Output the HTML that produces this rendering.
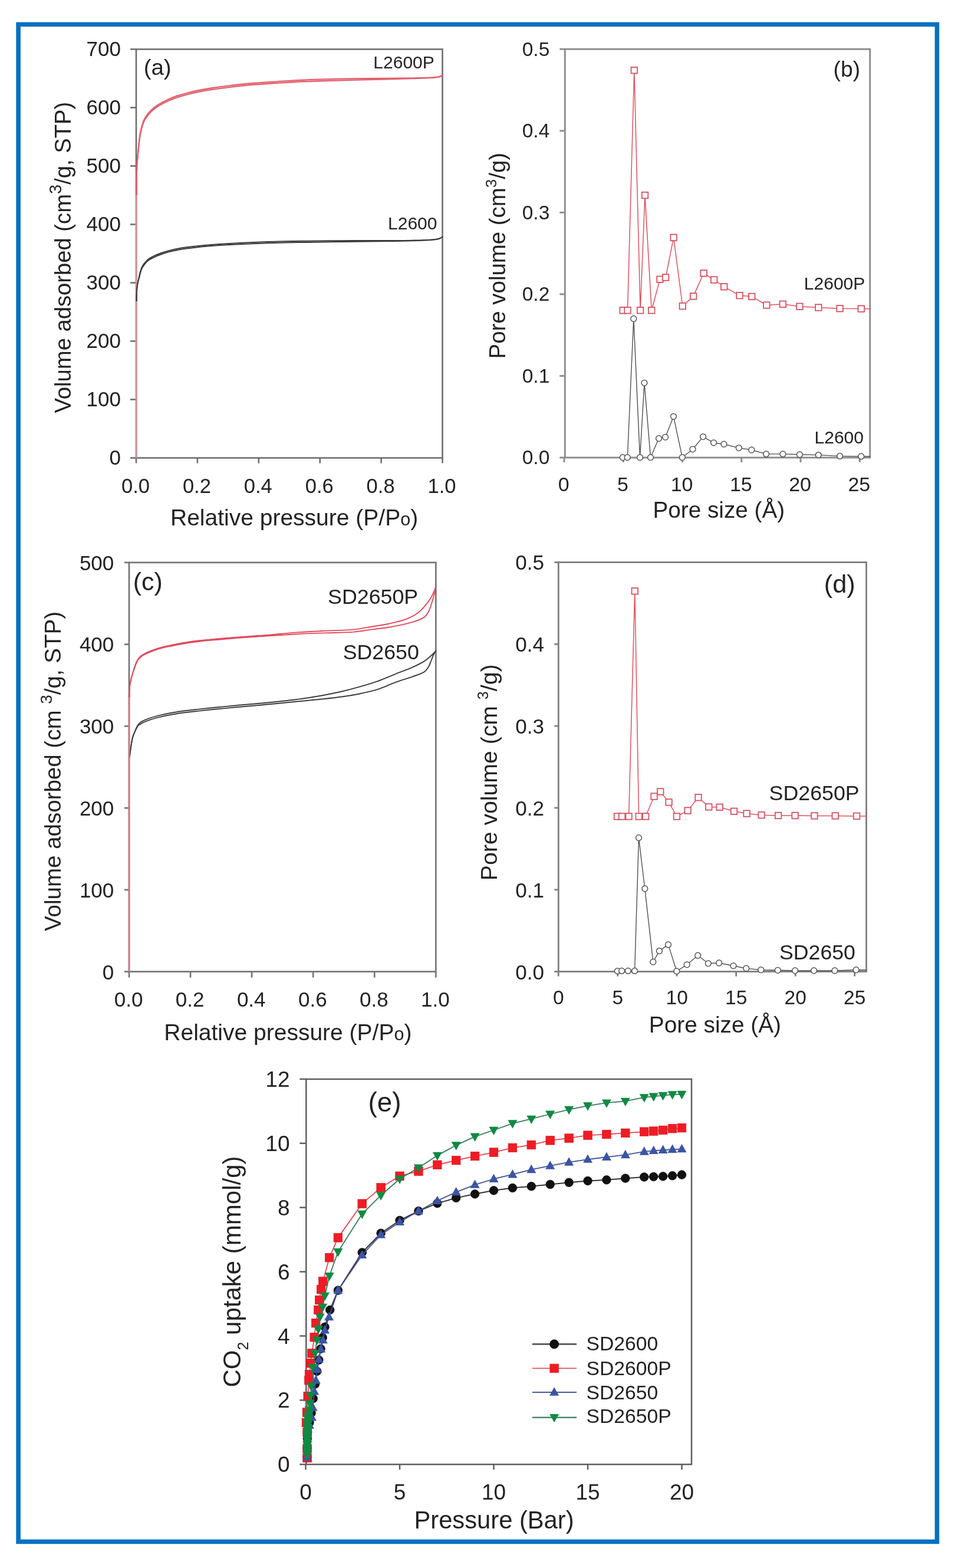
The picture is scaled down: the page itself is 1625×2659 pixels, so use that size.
<!DOCTYPE html>
<html><head><meta charset="utf-8"><title>Figure</title>
<style>
html,body{margin:0;padding:0;background:#fff;}
svg{display:block;}
text{font-family:"Liberation Sans", Arial, Helvetica, sans-serif;}
</style></head>
<body>
<svg width="1625" height="2659" viewBox="0 0 1625 2659">
<rect x="0" y="0" width="1625" height="2659" fill="#ffffff"/>
<rect x="31.1" y="41.4" width="1558.3" height="2573" fill="none" stroke="#0670c2" stroke-width="7.6"/>
<rect x="231" y="83.5" width="519.5" height="693" fill="none" stroke="#6e6e6e" stroke-width="2.6"/>
<line x1="221" y1="776.5" x2="231" y2="776.5" stroke="#6e6e6e" stroke-width="2.6"/>
<line x1="221" y1="677.5" x2="231" y2="677.5" stroke="#6e6e6e" stroke-width="2.6"/>
<line x1="221" y1="578.5" x2="231" y2="578.5" stroke="#6e6e6e" stroke-width="2.6"/>
<line x1="221" y1="479.5" x2="231" y2="479.5" stroke="#6e6e6e" stroke-width="2.6"/>
<line x1="221" y1="380.5" x2="231" y2="380.5" stroke="#6e6e6e" stroke-width="2.6"/>
<line x1="221" y1="281.5" x2="231" y2="281.5" stroke="#6e6e6e" stroke-width="2.6"/>
<line x1="221" y1="182.5" x2="231" y2="182.5" stroke="#6e6e6e" stroke-width="2.6"/>
<line x1="221" y1="83.5" x2="231" y2="83.5" stroke="#6e6e6e" stroke-width="2.6"/>
<line x1="231" y1="776.5" x2="231" y2="785.5" stroke="#6e6e6e" stroke-width="2.6"/>
<line x1="334.9" y1="776.5" x2="334.9" y2="785.5" stroke="#6e6e6e" stroke-width="2.6"/>
<line x1="438.8" y1="776.5" x2="438.8" y2="785.5" stroke="#6e6e6e" stroke-width="2.6"/>
<line x1="542.7" y1="776.5" x2="542.7" y2="785.5" stroke="#6e6e6e" stroke-width="2.6"/>
<line x1="646.6" y1="776.5" x2="646.6" y2="785.5" stroke="#6e6e6e" stroke-width="2.6"/>
<line x1="750.5" y1="776.5" x2="750.5" y2="785.5" stroke="#6e6e6e" stroke-width="2.6"/>
<line x1="231.3" y1="776.5" x2="231.3" y2="300" stroke="#cf9aa1" stroke-width="3.4"/>
<path d="M231.7,510 C231.73,506.67 231.68,503.61 231.8,500 C231.94,495.72 232.13,489.95 232.6,486 C232.95,483.07 233.46,481.12 234,478.4 C234.63,475.22 235.45,471.35 236.2,468.1 C236.88,465.15 237.47,462.38 238.3,459.7 C239.08,457.16 239.85,454.65 241,452.4 C242.1,450.23 243.48,448.34 245,446.4 C246.62,444.34 248.26,442.24 250.5,440.4 C253.12,438.25 256.52,436.37 260,434.6 C263.88,432.63 268.31,430.91 272.8,429.3 C277.61,427.58 282.79,426.05 288,424.7 C293.41,423.3 298.53,422.18 304.7,421.1 C312.24,419.78 321.81,418.67 330,417.7 C337.71,416.79 344.62,416.09 352.5,415.4 C361.2,414.64 370.21,414.01 380,413.4 C391.19,412.7 403.14,412.08 416,411.5 C430.85,410.83 447.38,410.16 464,409.7 C481.95,409.2 501.01,408.96 520,408.7 C539.65,408.43 560,408.25 580,408.14 C600,408.03 620.08,408.13 640,408.05 C659.75,407.97 682.47,407.96 699,407.65 C710.98,407.43 722.08,407.25 730,406.72 C734.94,406.39 738.89,406.11 742,405.46 C744.05,405.04 745.52,404.57 747,403.9 C748.31,403.31 749.33,402.5 750.5,401.8" fill="none" stroke="#3a3a3a" stroke-width="2" stroke-linejoin="round" stroke-linecap="round" />
<path d="M231.7,510 C231.73,506.67 231.68,503.61 231.8,500 C231.94,495.72 232.13,489.95 232.6,486 C232.95,483.07 233.42,480.96 234,478.4 C234.61,475.73 235.49,473.03 236.2,470.3 C236.92,467.53 237.47,464.58 238.3,461.9 C239.08,459.36 239.85,456.85 241,454.6 C242.1,452.43 243.48,450.54 245,448.6 C246.62,446.54 248.26,444.44 250.5,442.6 C253.12,440.45 256.52,438.57 260,436.8 C263.88,434.83 268.31,433.11 272.8,431.5 C277.61,429.78 282.79,428.25 288,426.9 C293.41,425.5 298.53,424.38 304.7,423.3 C312.24,421.98 321.81,420.87 330,419.9 C337.71,418.99 344.62,418.29 352.5,417.6 C361.2,416.84 370.21,416.21 380,415.6 C391.19,414.9 403.14,414.28 416,413.7 C430.85,413.03 447.38,412.36 464,411.9 C481.95,411.4 501.01,411.2 520,410.9 C539.65,410.59 560,410.37 580,410.1 C600,409.83 620.08,409.62 640,409.3 C659.75,408.98 682.47,408.7 699,408.2 C710.98,407.84 722.08,407.53 730,406.9 C734.94,406.51 738.89,406.17 742,405.5 C744.05,405.06 745.52,404.57 747,403.9 C748.31,403.31 749.33,402.5 750.5,401.8" fill="none" stroke="#3a3a3a" stroke-width="2" stroke-linejoin="round" stroke-linecap="round" />
<path d="M231.4,330 C231.47,320 231.4,308.78 231.6,300 C231.75,293.12 231.96,287.61 232.3,281.6 C232.63,275.82 233.11,270.18 233.6,264.6 C234.08,259.18 234.6,254.27 235.2,248.6 C235.88,242.16 236.48,234.12 237.5,228 C238.33,223 239.29,218.82 240.5,214.5 C241.65,210.4 242.86,206.17 244.5,202.7 C245.93,199.68 247.61,197.25 249.5,194.7 C251.44,192.08 253.55,189.6 256,187.2 C258.66,184.59 261.83,181.95 265,179.7 C268.16,177.45 271.55,175.59 275,173.7 C278.54,171.75 282.07,169.95 286,168.2 C290.35,166.26 295,164.4 300,162.7 C305.58,160.8 311.82,159.09 318,157.5 C324.47,155.84 331.32,154.34 338,153 C344.65,151.67 350.54,150.65 358,149.5 C367.41,148.05 379.16,146.52 390,145.2 C401.15,143.84 411.8,142.59 424,141.5 C438.17,140.24 455.2,139.26 470,138.3 C483.8,137.41 494.81,136.59 510,135.9 C530.08,134.98 557.01,134.21 580,133.7 C602.32,133.2 625.1,133.07 646,132.82 C664.9,132.61 683.94,132.55 700,132.29 C712.93,132.09 727.16,132.06 735,131.52 C738.99,131.25 741.63,131.08 744,130.48 C745.63,130.07 746.87,129.57 748,128.9 C748.99,128.31 749.67,127.5 750.5,126.8" fill="none" stroke="#e2606f" stroke-width="2.3" stroke-linejoin="round" stroke-linecap="round" />
<path d="M231.4,330 C231.47,320 231.4,308.78 231.6,300 C231.75,293.12 231.96,287.61 232.3,281.6 C232.63,275.82 233.11,270.18 233.6,264.6 C234.08,259.18 234.58,254.09 235.2,248.6 C235.86,242.77 236.53,236.15 237.5,230.6 C238.35,225.76 239.29,221.42 240.5,217.1 C241.65,213 242.86,208.77 244.5,205.3 C245.93,202.28 247.61,199.85 249.5,197.3 C251.44,194.68 253.55,192.2 256,189.8 C258.66,187.19 261.83,184.55 265,182.3 C268.16,180.05 271.55,178.19 275,176.3 C278.54,174.35 282.07,172.55 286,170.8 C290.35,168.86 295,167 300,165.3 C305.58,163.4 311.82,161.69 318,160.1 C324.47,158.44 331.32,156.94 338,155.6 C344.65,154.27 350.54,153.25 358,152.1 C367.41,150.65 379.16,149.12 390,147.8 C401.15,146.44 411.8,145.19 424,144.1 C438.17,142.84 455.2,141.86 470,140.9 C483.8,140.01 494.81,139.19 510,138.5 C530.08,137.58 557.01,136.96 580,136.3 C602.32,135.66 625.1,135.16 646,134.6 C664.9,134.09 683.95,133.64 700,133.1 C712.93,132.66 727.16,132.38 735,131.7 C738.99,131.35 741.63,131.12 744,130.5 C745.63,130.07 746.87,129.58 748,128.9 C748.99,128.31 749.67,127.5 750.5,126.8" fill="none" stroke="#e2606f" stroke-width="2.3" stroke-linejoin="round" stroke-linecap="round" />
<text x="205" y="787.7" font-size="35" text-anchor="end" fill="#232323" >0</text>
<text x="205" y="688.7" font-size="35" text-anchor="end" fill="#232323" >100</text>
<text x="205" y="589.7" font-size="35" text-anchor="end" fill="#232323" >200</text>
<text x="205" y="490.7" font-size="35" text-anchor="end" fill="#232323" >300</text>
<text x="205" y="391.7" font-size="35" text-anchor="end" fill="#232323" >400</text>
<text x="205" y="292.7" font-size="35" text-anchor="end" fill="#232323" >500</text>
<text x="205" y="193.7" font-size="35" text-anchor="end" fill="#232323" >600</text>
<text x="205" y="94.7" font-size="35" text-anchor="end" fill="#232323" >700</text>
<text x="230" y="836" font-size="34.5" text-anchor="middle" fill="#232323" >0.0</text>
<text x="333.9" y="836" font-size="34.5" text-anchor="middle" fill="#232323" >0.2</text>
<text x="437.8" y="836" font-size="34.5" text-anchor="middle" fill="#232323" >0.4</text>
<text x="541.7" y="836" font-size="34.5" text-anchor="middle" fill="#232323" >0.6</text>
<text x="645.6" y="836" font-size="34.5" text-anchor="middle" fill="#232323" >0.8</text>
<text x="749.5" y="836" font-size="34.5" text-anchor="middle" fill="#232323" >1.0</text>
<text x="289" y="890.8" font-size="39" text-anchor="start" fill="#232323" >Relative pressure (P/P<tspan font-size="30.5">o</tspan>)</text>
<text transform="translate(119.8,700.5) rotate(-90)" x="0" y="0" font-size="38.2" fill="#232323" >Volume adsorbed (cm<tspan font-size="29" dy="-16">3</tspan><tspan dy="16">/g, STP)</tspan></text>
<text x="243.7" y="127.3" font-size="37" text-anchor="start" fill="#232323" textLength="47" lengthAdjust="spacingAndGlyphs">(a)</text>
<text x="736.8" y="116" font-size="30" text-anchor="end" fill="#232323" >L2600P</text>
<text x="741.5" y="388.8" font-size="30" text-anchor="end" fill="#232323" >L2600</text>
<rect x="958.3" y="83.3" width="517.4" height="692.7" fill="none" stroke="#8c8c8c" stroke-width="2.9"/>
<line x1="949.3" y1="776" x2="958.3" y2="776" stroke="#8c8c8c" stroke-width="2.9"/>
<line x1="949.3" y1="637.46" x2="958.3" y2="637.46" stroke="#8c8c8c" stroke-width="2.9"/>
<line x1="949.3" y1="498.92" x2="958.3" y2="498.92" stroke="#8c8c8c" stroke-width="2.9"/>
<line x1="949.3" y1="360.38" x2="958.3" y2="360.38" stroke="#8c8c8c" stroke-width="2.9"/>
<line x1="949.3" y1="221.84" x2="958.3" y2="221.84" stroke="#8c8c8c" stroke-width="2.9"/>
<line x1="949.3" y1="83.3" x2="958.3" y2="83.3" stroke="#8c8c8c" stroke-width="2.9"/>
<line x1="957" y1="776" x2="957" y2="784" stroke="#8c8c8c" stroke-width="2.9"/>
<line x1="1057.25" y1="776" x2="1057.25" y2="784" stroke="#8c8c8c" stroke-width="2.9"/>
<line x1="1157.5" y1="776" x2="1157.5" y2="784" stroke="#8c8c8c" stroke-width="2.9"/>
<line x1="1257.75" y1="776" x2="1257.75" y2="784" stroke="#8c8c8c" stroke-width="2.9"/>
<line x1="1358" y1="776" x2="1358" y2="784" stroke="#8c8c8c" stroke-width="2.9"/>
<line x1="1458.25" y1="776" x2="1458.25" y2="784" stroke="#8c8c8c" stroke-width="2.9"/>
<text x="932.3" y="787.4" font-size="33.5" text-anchor="end" fill="#232323" >0.0</text>
<text x="932.3" y="648.86" font-size="33.5" text-anchor="end" fill="#232323" >0.1</text>
<text x="932.3" y="510.32" font-size="33.5" text-anchor="end" fill="#232323" >0.2</text>
<text x="932.3" y="371.78" font-size="33.5" text-anchor="end" fill="#232323" >0.3</text>
<text x="932.3" y="233.24" font-size="33.5" text-anchor="end" fill="#232323" >0.4</text>
<text x="932.3" y="94.7" font-size="33.5" text-anchor="end" fill="#232323" >0.5</text>
<text x="956.1" y="832.6" font-size="34" text-anchor="middle" fill="#232323" >0</text>
<text x="1056.35" y="832.6" font-size="34" text-anchor="middle" fill="#232323" >5</text>
<text x="1156.6" y="832.6" font-size="34" text-anchor="middle" fill="#232323" >10</text>
<text x="1256.85" y="832.6" font-size="34" text-anchor="middle" fill="#232323" >15</text>
<text x="1357.1" y="832.6" font-size="34" text-anchor="middle" fill="#232323" >20</text>
<text x="1457.35" y="832.6" font-size="34" text-anchor="middle" fill="#232323" >25</text>
<text x="1107.5" y="878" font-size="38.7" text-anchor="start" fill="#232323" >Pore size (Å)</text>
<text transform="translate(857,608.4) rotate(-90)" x="0" y="0" font-size="38.4" fill="#232323" >Pore volume (cm<tspan font-size="26" dy="-15">3</tspan><tspan dy="15">/g)</tspan></text>
<text x="1413.6" y="130" font-size="37" text-anchor="start" fill="#232323" textLength="45.5" lengthAdjust="spacingAndGlyphs">(b)</text>
<text x="1467.3" y="490.8" font-size="30" text-anchor="end" fill="#232323" >L2600P</text>
<text x="1465" y="751.5" font-size="30" text-anchor="end" fill="#232323" >L2600</text>
<path d="M1056.6,526.3 L1064.5,526.3 L1075.8,119.2 L1086.1,526.3 L1094,331.1 L1105.2,526.3 L1119.5,473.7 L1129.1,470.5 L1142.6,402.8 L1157.8,519.1 L1176.1,502.4 L1193.6,463.3 L1211.2,474.5 L1228.2,486.2 L1254.5,501.1 L1275.2,502.9 L1300.3,517.5 L1327.9,515.8 L1356.4,519.8 L1388.3,521.5 L1424.6,523.2 L1460.8,523.6 L1475.7,523.8" fill="none" stroke="#e0505f" stroke-width="1.5" stroke-linejoin="round" stroke-linecap="round" />
<rect x="1051.35" y="521.05" width="10.5" height="10.5" fill="#fff" stroke="#d8505e" stroke-width="1.8"/>
<rect x="1059.25" y="521.05" width="10.5" height="10.5" fill="#fff" stroke="#d8505e" stroke-width="1.8"/>
<rect x="1070.55" y="113.95" width="10.5" height="10.5" fill="#fff" stroke="#d8505e" stroke-width="1.8"/>
<rect x="1080.85" y="521.05" width="10.5" height="10.5" fill="#fff" stroke="#d8505e" stroke-width="1.8"/>
<rect x="1088.75" y="325.85" width="10.5" height="10.5" fill="#fff" stroke="#d8505e" stroke-width="1.8"/>
<rect x="1099.95" y="521.05" width="10.5" height="10.5" fill="#fff" stroke="#d8505e" stroke-width="1.8"/>
<rect x="1114.25" y="468.45" width="10.5" height="10.5" fill="#fff" stroke="#d8505e" stroke-width="1.8"/>
<rect x="1123.85" y="465.25" width="10.5" height="10.5" fill="#fff" stroke="#d8505e" stroke-width="1.8"/>
<rect x="1137.35" y="397.55" width="10.5" height="10.5" fill="#fff" stroke="#d8505e" stroke-width="1.8"/>
<rect x="1152.55" y="513.85" width="10.5" height="10.5" fill="#fff" stroke="#d8505e" stroke-width="1.8"/>
<rect x="1170.85" y="497.15" width="10.5" height="10.5" fill="#fff" stroke="#d8505e" stroke-width="1.8"/>
<rect x="1188.35" y="458.05" width="10.5" height="10.5" fill="#fff" stroke="#d8505e" stroke-width="1.8"/>
<rect x="1205.95" y="469.25" width="10.5" height="10.5" fill="#fff" stroke="#d8505e" stroke-width="1.8"/>
<rect x="1222.95" y="480.95" width="10.5" height="10.5" fill="#fff" stroke="#d8505e" stroke-width="1.8"/>
<rect x="1249.25" y="495.85" width="10.5" height="10.5" fill="#fff" stroke="#d8505e" stroke-width="1.8"/>
<rect x="1269.95" y="497.65" width="10.5" height="10.5" fill="#fff" stroke="#d8505e" stroke-width="1.8"/>
<rect x="1295.05" y="512.25" width="10.5" height="10.5" fill="#fff" stroke="#d8505e" stroke-width="1.8"/>
<rect x="1322.65" y="510.55" width="10.5" height="10.5" fill="#fff" stroke="#d8505e" stroke-width="1.8"/>
<rect x="1351.15" y="514.55" width="10.5" height="10.5" fill="#fff" stroke="#d8505e" stroke-width="1.8"/>
<rect x="1383.05" y="516.25" width="10.5" height="10.5" fill="#fff" stroke="#d8505e" stroke-width="1.8"/>
<rect x="1419.35" y="517.95" width="10.5" height="10.5" fill="#fff" stroke="#d8505e" stroke-width="1.8"/>
<rect x="1455.55" y="518.35" width="10.5" height="10.5" fill="#fff" stroke="#d8505e" stroke-width="1.8"/>
<path d="M1056.3,775.7 L1064.3,775.7 L1074.8,540.5 L1085.5,775.7 L1093,649.3 L1103.5,775.7 L1117.5,743.5 L1128.6,741.3 L1142.5,706.3 L1157.3,775.7 L1175,761.8 L1192.6,740.6 L1210.6,750.8 L1228,753.2 L1253.3,759.6 L1274.8,763 L1299.6,769.9 L1327.9,769.9 L1356.4,770.8 L1388.3,771.6 L1424.6,773.4 L1460.8,773.9 L1475.7,774" fill="none" stroke="#505050" stroke-width="1.4" stroke-linejoin="round" stroke-linecap="round" />
<circle cx="1056.3" cy="775.7" r="4.9" fill="#fff" stroke="#555555" stroke-width="1.5"/>
<circle cx="1064.3" cy="775.7" r="4.9" fill="#fff" stroke="#555555" stroke-width="1.5"/>
<circle cx="1074.8" cy="540.5" r="4.9" fill="#fff" stroke="#555555" stroke-width="1.5"/>
<circle cx="1085.5" cy="775.7" r="4.9" fill="#fff" stroke="#555555" stroke-width="1.5"/>
<circle cx="1093" cy="649.3" r="4.9" fill="#fff" stroke="#555555" stroke-width="1.5"/>
<circle cx="1103.5" cy="775.7" r="4.9" fill="#fff" stroke="#555555" stroke-width="1.5"/>
<circle cx="1117.5" cy="743.5" r="4.9" fill="#fff" stroke="#555555" stroke-width="1.5"/>
<circle cx="1128.6" cy="741.3" r="4.9" fill="#fff" stroke="#555555" stroke-width="1.5"/>
<circle cx="1142.5" cy="706.3" r="4.9" fill="#fff" stroke="#555555" stroke-width="1.5"/>
<circle cx="1157.3" cy="775.7" r="4.9" fill="#fff" stroke="#555555" stroke-width="1.5"/>
<circle cx="1175" cy="761.8" r="4.9" fill="#fff" stroke="#555555" stroke-width="1.5"/>
<circle cx="1192.6" cy="740.6" r="4.9" fill="#fff" stroke="#555555" stroke-width="1.5"/>
<circle cx="1210.6" cy="750.8" r="4.9" fill="#fff" stroke="#555555" stroke-width="1.5"/>
<circle cx="1228" cy="753.2" r="4.9" fill="#fff" stroke="#555555" stroke-width="1.5"/>
<circle cx="1253.3" cy="759.6" r="4.9" fill="#fff" stroke="#555555" stroke-width="1.5"/>
<circle cx="1274.8" cy="763" r="4.9" fill="#fff" stroke="#555555" stroke-width="1.5"/>
<circle cx="1299.6" cy="769.9" r="4.9" fill="#fff" stroke="#555555" stroke-width="1.5"/>
<circle cx="1327.9" cy="769.9" r="4.9" fill="#fff" stroke="#555555" stroke-width="1.5"/>
<circle cx="1356.4" cy="770.8" r="4.9" fill="#fff" stroke="#555555" stroke-width="1.5"/>
<circle cx="1388.3" cy="771.6" r="4.9" fill="#fff" stroke="#555555" stroke-width="1.5"/>
<circle cx="1424.6" cy="773.4" r="4.9" fill="#fff" stroke="#555555" stroke-width="1.5"/>
<circle cx="1460.8" cy="773.9" r="4.9" fill="#fff" stroke="#555555" stroke-width="1.5"/>
<rect x="219" y="953.9" width="520.3" height="693.8" fill="none" stroke="#757575" stroke-width="2.7"/>
<line x1="211" y1="1647.7" x2="219" y2="1647.7" stroke="#757575" stroke-width="2.7"/>
<line x1="211" y1="1508.94" x2="219" y2="1508.94" stroke="#757575" stroke-width="2.7"/>
<line x1="211" y1="1370.18" x2="219" y2="1370.18" stroke="#757575" stroke-width="2.7"/>
<line x1="211" y1="1231.42" x2="219" y2="1231.42" stroke="#757575" stroke-width="2.7"/>
<line x1="211" y1="1092.66" x2="219" y2="1092.66" stroke="#757575" stroke-width="2.7"/>
<line x1="211" y1="953.9" x2="219" y2="953.9" stroke="#757575" stroke-width="2.7"/>
<line x1="219" y1="1647.7" x2="219" y2="1657.7" stroke="#757575" stroke-width="2.7"/>
<line x1="323.06" y1="1647.7" x2="323.06" y2="1657.7" stroke="#757575" stroke-width="2.7"/>
<line x1="427.12" y1="1647.7" x2="427.12" y2="1657.7" stroke="#757575" stroke-width="2.7"/>
<line x1="531.18" y1="1647.7" x2="531.18" y2="1657.7" stroke="#757575" stroke-width="2.7"/>
<line x1="635.24" y1="1647.7" x2="635.24" y2="1657.7" stroke="#757575" stroke-width="2.7"/>
<line x1="739.3" y1="1647.7" x2="739.3" y2="1657.7" stroke="#757575" stroke-width="2.7"/>
<path d="M219.8,1284 C220.7,1277.33 221.54,1270 222.5,1264 C223.29,1259.05 223.95,1254.3 225,1250.5 C225.8,1247.59 226.88,1245.31 227.8,1243 C228.61,1240.99 229.41,1239.25 230.2,1237.4 C230.98,1235.58 231.68,1233.58 232.5,1232 C233.19,1230.68 233.86,1229.57 234.7,1228.5 C235.53,1227.44 236.45,1226.48 237.5,1225.6 C238.6,1224.67 239.62,1223.97 241.2,1223.1 C243.64,1221.75 247.13,1220.2 251,1218.8 C256.32,1216.87 263.91,1214.84 270.4,1213.2 C276.81,1211.58 283.17,1210.22 289.7,1209 C296.36,1207.75 302.71,1206.8 310,1205.8 C318.46,1204.64 327.95,1203.66 337.5,1202.6 C347.88,1201.45 359.27,1200.28 370,1199.2 C380.5,1198.15 389.69,1197.26 401.2,1196.2 C415.44,1194.89 432.82,1193.58 449,1192 C465.73,1190.36 483.46,1188.65 500,1186.5 C515.75,1184.45 531.85,1182.03 546,1179.5 C558.22,1177.31 569.05,1175.07 580,1172.5 C590.35,1170.07 600.03,1167.46 610,1164.6 C620.03,1161.73 630.07,1158.82 640,1155.3 C650.07,1151.73 660,1147.28 670,1143.3 C680,1139.32 691.16,1135.41 700,1131.4 C707.29,1128.1 714.21,1124.8 719.5,1121.4 C723.54,1118.81 726.57,1116.01 729.5,1113.5 C731.94,1111.41 734.29,1109.28 736,1107.5 C737.24,1106.22 738,1105.17 739,1104" fill="none" stroke="#3c3c3c" stroke-width="1.9" stroke-linejoin="round" stroke-linecap="round" />
<path d="M219.8,1284 C220.7,1277.33 221.54,1270 222.5,1264 C223.29,1259.05 223.95,1254.3 225,1250.5 C225.8,1247.59 226.88,1245.31 227.8,1243 C228.61,1240.99 229.35,1239.07 230.2,1237.4 C230.93,1235.96 231.73,1234.76 232.5,1233.5 C233.23,1232.3 233.79,1230.83 234.7,1230 C235.5,1229.28 236.52,1229.17 237.5,1228.6 C238.67,1227.92 239.62,1226.97 241.2,1226.1 C243.64,1224.75 247.13,1223.2 251,1221.8 C256.32,1219.87 263.91,1217.84 270.4,1216.2 C276.81,1214.58 283.17,1213.22 289.7,1212 C296.36,1210.75 302.71,1209.8 310,1208.8 C318.46,1207.64 327.95,1206.66 337.5,1205.6 C347.88,1204.45 359.27,1203.28 370,1202.2 C380.5,1201.15 389.69,1200.26 401.2,1199.2 C415.44,1197.89 432.81,1196.5 449,1195 C465.73,1193.45 483.44,1191.62 500,1190 C515.73,1188.46 531.83,1187.03 546,1185.5 C558.2,1184.19 569.04,1183.06 580,1181.5 C590.33,1180.03 600.04,1178.54 610,1176.5 C620.04,1174.45 630.11,1172.35 640,1169.2 C650.11,1165.98 659.95,1160.97 670,1157.3 C679.95,1153.67 691.12,1150.58 700,1147.3 C707.24,1144.63 714.88,1142.69 719.5,1139.4 C722.78,1137.06 724.55,1134.47 726.5,1131.4 C728.61,1128.08 729.95,1123.69 731.5,1120 C732.94,1116.57 734.1,1112.87 735.5,1110 C736.62,1107.7 737.83,1106 739,1104" fill="none" stroke="#3c3c3c" stroke-width="1.9" stroke-linejoin="round" stroke-linecap="round" />
<line x1="219" y1="1647.7" x2="219" y2="1178" stroke="#d9768c" stroke-width="2.8"/>
<path d="M219.4,1182 C219.53,1176.67 219.33,1170.94 219.8,1166 C220.21,1161.7 220.94,1157.98 221.8,1154 C222.67,1149.98 223.96,1145.68 225,1142 C225.89,1138.83 226.7,1136.01 227.6,1133.2 C228.44,1130.59 229.29,1127.99 230.2,1125.7 C231,1123.7 231.78,1121.88 232.7,1120.2 C233.53,1118.67 234.36,1117.29 235.4,1116 C236.45,1114.69 237.7,1113.48 239,1112.4 C240.3,1111.32 241.42,1110.53 243.2,1109.5 C245.95,1107.91 250.13,1105.97 254.2,1104.3 C259.03,1102.31 264.71,1100.24 270.4,1098.6 C276.5,1096.84 283.17,1095.57 289.7,1094.2 C296.37,1092.8 302.71,1091.53 310,1090.3 C318.46,1088.87 327.94,1087.45 337.5,1086.3 C347.87,1085.05 359.27,1084.16 370,1083.2 C380.5,1082.26 389.69,1081.48 401.2,1080.6 C415.44,1079.52 432.54,1078.61 449,1077.3 C466.63,1075.9 486.22,1073.67 503.7,1072.4 C519.77,1071.23 534.27,1070.59 550,1069.8 C566.34,1068.98 585.5,1069.1 600,1067.6 C611.28,1066.43 619.93,1064.35 629.9,1062.7 C639.87,1061.05 649.89,1059.85 659.8,1057.7 C669.79,1055.53 680.84,1053.21 689.6,1049.7 C697.13,1046.69 703.74,1043.35 709.6,1038.8 C715.34,1034.34 720.46,1027.89 724.5,1022.8 C727.77,1018.68 730.28,1014.88 732.5,1010.9 C734.54,1007.25 736.35,1002.65 737.5,999.9 C738.18,998.28 738.5,997.3 739,996" fill="none" stroke="#e2485a" stroke-width="1.9" stroke-linejoin="round" stroke-linecap="round" />
<path d="M219.4,1182 C219.53,1176.67 219.33,1170.94 219.8,1166 C220.21,1161.7 220.94,1157.98 221.8,1154 C222.67,1149.98 223.92,1145.49 225,1142 C225.86,1139.25 226.74,1137.15 227.6,1134.7 C228.47,1132.22 229.29,1129.49 230.2,1127.2 C231,1125.2 231.78,1123.38 232.7,1121.7 C233.53,1120.17 234.36,1118.79 235.4,1117.5 C236.45,1116.19 237.7,1114.98 239,1113.9 C240.3,1112.82 241.42,1112.03 243.2,1111 C245.95,1109.41 250.13,1107.47 254.2,1105.8 C259.03,1103.81 264.71,1101.74 270.4,1100.1 C276.5,1098.34 283.17,1097.07 289.7,1095.7 C296.37,1094.3 302.71,1093.03 310,1091.8 C318.46,1090.37 327.94,1088.95 337.5,1087.8 C347.87,1086.55 359.27,1085.66 370,1084.7 C380.5,1083.76 389.69,1082.98 401.2,1082.1 C415.44,1081.02 432.53,1079.91 449,1078.8 C466.62,1077.61 486.22,1076.11 503.7,1075.2 C519.77,1074.36 534.27,1073.99 550,1073.4 C566.35,1072.79 585.49,1072.83 600,1071.6 C611.27,1070.65 619.93,1068.92 629.9,1067.6 C639.87,1066.28 649.87,1065.35 659.8,1063.7 C669.77,1062.05 680.7,1059.93 689.6,1057.7 C696.98,1055.86 703.97,1054.05 709.6,1051.7 C714.04,1049.85 718.03,1048.15 721,1045.5 C723.66,1043.13 725.23,1040.37 727,1037 C729.19,1032.82 730.94,1026.75 732.5,1022 C733.88,1017.8 734.95,1014.17 736,1010 C737.13,1005.53 738,1000.67 739,996" fill="none" stroke="#e2485a" stroke-width="1.9" stroke-linejoin="round" stroke-linecap="round" />
<text x="193.3" y="1660.5" font-size="35" text-anchor="end" fill="#232323" >0</text>
<text x="193.3" y="1521.74" font-size="35" text-anchor="end" fill="#232323" >100</text>
<text x="193.3" y="1382.98" font-size="35" text-anchor="end" fill="#232323" >200</text>
<text x="193.3" y="1244.22" font-size="35" text-anchor="end" fill="#232323" >300</text>
<text x="193.3" y="1105.46" font-size="35" text-anchor="end" fill="#232323" >400</text>
<text x="193.3" y="966.7" font-size="35" text-anchor="end" fill="#232323" >500</text>
<text x="218.1" y="1706.8" font-size="35" text-anchor="middle" fill="#232323" >0.0</text>
<text x="322.16" y="1706.8" font-size="35" text-anchor="middle" fill="#232323" >0.2</text>
<text x="426.22" y="1706.8" font-size="35" text-anchor="middle" fill="#232323" >0.4</text>
<text x="530.28" y="1706.8" font-size="35" text-anchor="middle" fill="#232323" >0.6</text>
<text x="634.34" y="1706.8" font-size="35" text-anchor="middle" fill="#232323" >0.8</text>
<text x="738.4" y="1706.8" font-size="35" text-anchor="middle" fill="#232323" >1.0</text>
<text x="278.3" y="1764.3" font-size="39" text-anchor="start" fill="#232323" >Relative pressure (P/P<tspan font-size="30.5">o</tspan>)</text>
<text transform="translate(102.8,1579) rotate(-90)" x="0" y="0" font-size="38.5" fill="#232323" >Volume adsorbed (cm <tspan font-size="28" dy="-15">3</tspan><tspan dy="15">/g, STP)</tspan></text>
<text x="225.8" y="1000.8" font-size="43" text-anchor="start" fill="#232323" textLength="50" lengthAdjust="spacingAndGlyphs">(c)</text>
<text x="556" y="1024" font-size="35.8" text-anchor="start" fill="#232323" >SD2650P</text>
<text x="581.8" y="1118.1" font-size="35.7" text-anchor="start" fill="#232323" >SD2650</text>
<rect x="947.3" y="953.5" width="522.2" height="694.1" fill="none" stroke="#7e7e7e" stroke-width="2.8"/>
<line x1="940.3" y1="1647.6" x2="947.3" y2="1647.6" stroke="#7e7e7e" stroke-width="2.8"/>
<line x1="940.3" y1="1508.78" x2="947.3" y2="1508.78" stroke="#7e7e7e" stroke-width="2.8"/>
<line x1="940.3" y1="1369.96" x2="947.3" y2="1369.96" stroke="#7e7e7e" stroke-width="2.8"/>
<line x1="940.3" y1="1231.14" x2="947.3" y2="1231.14" stroke="#7e7e7e" stroke-width="2.8"/>
<line x1="940.3" y1="1092.32" x2="947.3" y2="1092.32" stroke="#7e7e7e" stroke-width="2.8"/>
<line x1="940.3" y1="953.5" x2="947.3" y2="953.5" stroke="#7e7e7e" stroke-width="2.8"/>
<line x1="947.2" y1="1647.6" x2="947.2" y2="1655.6" stroke="#7e7e7e" stroke-width="2.8"/>
<line x1="1047.7" y1="1647.6" x2="1047.7" y2="1655.6" stroke="#7e7e7e" stroke-width="2.8"/>
<line x1="1148.2" y1="1647.6" x2="1148.2" y2="1655.6" stroke="#7e7e7e" stroke-width="2.8"/>
<line x1="1248.7" y1="1647.6" x2="1248.7" y2="1655.6" stroke="#7e7e7e" stroke-width="2.8"/>
<line x1="1349.2" y1="1647.6" x2="1349.2" y2="1655.6" stroke="#7e7e7e" stroke-width="2.8"/>
<line x1="1449.7" y1="1647.6" x2="1449.7" y2="1655.6" stroke="#7e7e7e" stroke-width="2.8"/>
<text x="923" y="1660.5" font-size="35" text-anchor="end" fill="#232323" >0.0</text>
<text x="923" y="1521.68" font-size="35" text-anchor="end" fill="#232323" >0.1</text>
<text x="923" y="1382.86" font-size="35" text-anchor="end" fill="#232323" >0.2</text>
<text x="923" y="1244.04" font-size="35" text-anchor="end" fill="#232323" >0.3</text>
<text x="923" y="1105.22" font-size="35" text-anchor="end" fill="#232323" >0.4</text>
<text x="923" y="966.4" font-size="35" text-anchor="end" fill="#232323" >0.5</text>
<text x="947.2" y="1703.4" font-size="33.5" text-anchor="middle" fill="#232323" >0</text>
<text x="1047.7" y="1703.4" font-size="33.5" text-anchor="middle" fill="#232323" >5</text>
<text x="1148.2" y="1703.4" font-size="33.5" text-anchor="middle" fill="#232323" >10</text>
<text x="1248.7" y="1703.4" font-size="33.5" text-anchor="middle" fill="#232323" >15</text>
<text x="1349.2" y="1703.4" font-size="33.5" text-anchor="middle" fill="#232323" >20</text>
<text x="1449.7" y="1703.4" font-size="33.5" text-anchor="middle" fill="#232323" >25</text>
<text x="1100.8" y="1751.2" font-size="38.8" text-anchor="start" fill="#232323" >Pore size (Å)</text>
<text transform="translate(843.2,1493.2) rotate(-90)" x="0" y="0" font-size="39.2" fill="#232323" >Pore volume (cm <tspan font-size="25" dy="-15">3</tspan><tspan dy="15">/g)</tspan></text>
<text x="1397.8" y="1004.8" font-size="43" text-anchor="start" fill="#232323" textLength="53" lengthAdjust="spacingAndGlyphs">(d)</text>
<text x="1304.5" y="1356.6" font-size="35.8" text-anchor="start" fill="#232323" >SD2650P</text>
<text x="1322" y="1627" font-size="35.7" text-anchor="start" fill="#232323" >SD2650</text>
<path d="M1047,1384.5 L1055,1384.5 L1066.6,1384.5 L1076.8,1002.3 L1083.6,1384.5 L1095.2,1384.5 L1109.5,1350.5 L1120.2,1342.5 L1134.5,1360.4 L1147.9,1384.5 L1166.6,1374.6 L1184.5,1352.3 L1202.3,1368.4 L1220.6,1368.8 L1245,1375.8 L1266.6,1379.6 L1291.6,1382.2 L1320.1,1383 L1348.6,1383 L1381.4,1383.5 L1416.8,1383.5 L1453.1,1383.9 L1469.5,1384" fill="none" stroke="#e0505f" stroke-width="1.5" stroke-linejoin="round" stroke-linecap="round" />
<rect x="1041.75" y="1379.25" width="10.5" height="10.5" fill="#fff" stroke="#d8505e" stroke-width="1.8"/>
<rect x="1049.75" y="1379.25" width="10.5" height="10.5" fill="#fff" stroke="#d8505e" stroke-width="1.8"/>
<rect x="1061.35" y="1379.25" width="10.5" height="10.5" fill="#fff" stroke="#d8505e" stroke-width="1.8"/>
<rect x="1071.55" y="997.05" width="10.5" height="10.5" fill="#fff" stroke="#d8505e" stroke-width="1.8"/>
<rect x="1078.35" y="1379.25" width="10.5" height="10.5" fill="#fff" stroke="#d8505e" stroke-width="1.8"/>
<rect x="1089.95" y="1379.25" width="10.5" height="10.5" fill="#fff" stroke="#d8505e" stroke-width="1.8"/>
<rect x="1104.25" y="1345.25" width="10.5" height="10.5" fill="#fff" stroke="#d8505e" stroke-width="1.8"/>
<rect x="1114.95" y="1337.25" width="10.5" height="10.5" fill="#fff" stroke="#d8505e" stroke-width="1.8"/>
<rect x="1129.25" y="1355.15" width="10.5" height="10.5" fill="#fff" stroke="#d8505e" stroke-width="1.8"/>
<rect x="1142.65" y="1379.25" width="10.5" height="10.5" fill="#fff" stroke="#d8505e" stroke-width="1.8"/>
<rect x="1161.35" y="1369.35" width="10.5" height="10.5" fill="#fff" stroke="#d8505e" stroke-width="1.8"/>
<rect x="1179.25" y="1347.05" width="10.5" height="10.5" fill="#fff" stroke="#d8505e" stroke-width="1.8"/>
<rect x="1197.05" y="1363.15" width="10.5" height="10.5" fill="#fff" stroke="#d8505e" stroke-width="1.8"/>
<rect x="1215.35" y="1363.55" width="10.5" height="10.5" fill="#fff" stroke="#d8505e" stroke-width="1.8"/>
<rect x="1239.75" y="1370.55" width="10.5" height="10.5" fill="#fff" stroke="#d8505e" stroke-width="1.8"/>
<rect x="1261.35" y="1374.35" width="10.5" height="10.5" fill="#fff" stroke="#d8505e" stroke-width="1.8"/>
<rect x="1286.35" y="1376.95" width="10.5" height="10.5" fill="#fff" stroke="#d8505e" stroke-width="1.8"/>
<rect x="1314.85" y="1377.75" width="10.5" height="10.5" fill="#fff" stroke="#d8505e" stroke-width="1.8"/>
<rect x="1343.35" y="1377.75" width="10.5" height="10.5" fill="#fff" stroke="#d8505e" stroke-width="1.8"/>
<rect x="1376.15" y="1378.25" width="10.5" height="10.5" fill="#fff" stroke="#d8505e" stroke-width="1.8"/>
<rect x="1411.55" y="1378.25" width="10.5" height="10.5" fill="#fff" stroke="#d8505e" stroke-width="1.8"/>
<rect x="1447.85" y="1378.65" width="10.5" height="10.5" fill="#fff" stroke="#d8505e" stroke-width="1.8"/>
<path d="M1047.4,1646.7 L1054.6,1646.4 L1065.3,1646.4 L1076.6,1646.4 L1083.5,1420.7 L1093.8,1507 L1107.8,1631.2 L1118.4,1612.6 L1133.5,1601.9 L1147.8,1647 L1165.2,1635.8 L1183.7,1620.2 L1201.4,1633.8 L1219.6,1633 L1244,1637.8 L1265.8,1642.2 L1290.8,1644.7 L1319.3,1645.3 L1348.6,1646 L1380.6,1646 L1416,1646 L1452.2,1644.7 L1469.5,1645" fill="none" stroke="#505050" stroke-width="1.4" stroke-linejoin="round" stroke-linecap="round" />
<circle cx="1047.4" cy="1646.7" r="4.9" fill="#fff" stroke="#555555" stroke-width="1.5"/>
<circle cx="1054.6" cy="1646.4" r="4.9" fill="#fff" stroke="#555555" stroke-width="1.5"/>
<circle cx="1065.3" cy="1646.4" r="4.9" fill="#fff" stroke="#555555" stroke-width="1.5"/>
<circle cx="1076.6" cy="1646.4" r="4.9" fill="#fff" stroke="#555555" stroke-width="1.5"/>
<circle cx="1083.5" cy="1420.7" r="4.9" fill="#fff" stroke="#555555" stroke-width="1.5"/>
<circle cx="1093.8" cy="1507" r="4.9" fill="#fff" stroke="#555555" stroke-width="1.5"/>
<circle cx="1107.8" cy="1631.2" r="4.9" fill="#fff" stroke="#555555" stroke-width="1.5"/>
<circle cx="1118.4" cy="1612.6" r="4.9" fill="#fff" stroke="#555555" stroke-width="1.5"/>
<circle cx="1133.5" cy="1601.9" r="4.9" fill="#fff" stroke="#555555" stroke-width="1.5"/>
<circle cx="1147.8" cy="1647" r="4.9" fill="#fff" stroke="#555555" stroke-width="1.5"/>
<circle cx="1165.2" cy="1635.8" r="4.9" fill="#fff" stroke="#555555" stroke-width="1.5"/>
<circle cx="1183.7" cy="1620.2" r="4.9" fill="#fff" stroke="#555555" stroke-width="1.5"/>
<circle cx="1201.4" cy="1633.8" r="4.9" fill="#fff" stroke="#555555" stroke-width="1.5"/>
<circle cx="1219.6" cy="1633" r="4.9" fill="#fff" stroke="#555555" stroke-width="1.5"/>
<circle cx="1244" cy="1637.8" r="4.9" fill="#fff" stroke="#555555" stroke-width="1.5"/>
<circle cx="1265.8" cy="1642.2" r="4.9" fill="#fff" stroke="#555555" stroke-width="1.5"/>
<circle cx="1290.8" cy="1644.7" r="4.9" fill="#fff" stroke="#555555" stroke-width="1.5"/>
<circle cx="1319.3" cy="1645.3" r="4.9" fill="#fff" stroke="#555555" stroke-width="1.5"/>
<circle cx="1348.6" cy="1646" r="4.9" fill="#fff" stroke="#555555" stroke-width="1.5"/>
<circle cx="1380.6" cy="1646" r="4.9" fill="#fff" stroke="#555555" stroke-width="1.5"/>
<circle cx="1416" cy="1646" r="4.9" fill="#fff" stroke="#555555" stroke-width="1.5"/>
<circle cx="1452.2" cy="1644.7" r="4.9" fill="#fff" stroke="#555555" stroke-width="1.5"/>
<rect x="519.3" y="1830" width="653.7" height="653.3" fill="none" stroke="#5e5e5e" stroke-width="2.5"/>
<line x1="508.3" y1="2483.3" x2="519.3" y2="2483.3" stroke="#5e5e5e" stroke-width="2.5"/>
<line x1="508.3" y1="2374.4" x2="519.3" y2="2374.4" stroke="#5e5e5e" stroke-width="2.5"/>
<line x1="508.3" y1="2265.5" x2="519.3" y2="2265.5" stroke="#5e5e5e" stroke-width="2.5"/>
<line x1="508.3" y1="2156.6" x2="519.3" y2="2156.6" stroke="#5e5e5e" stroke-width="2.5"/>
<line x1="508.3" y1="2047.7" x2="519.3" y2="2047.7" stroke="#5e5e5e" stroke-width="2.5"/>
<line x1="508.3" y1="1938.8" x2="519.3" y2="1938.8" stroke="#5e5e5e" stroke-width="2.5"/>
<line x1="508.3" y1="1829.9" x2="519.3" y2="1829.9" stroke="#5e5e5e" stroke-width="2.5"/>
<line x1="518.5" y1="2483.3" x2="518.5" y2="2492.3" stroke="#5e5e5e" stroke-width="2.5"/>
<line x1="678" y1="2483.3" x2="678" y2="2492.3" stroke="#5e5e5e" stroke-width="2.5"/>
<line x1="837.5" y1="2483.3" x2="837.5" y2="2492.3" stroke="#5e5e5e" stroke-width="2.5"/>
<line x1="997" y1="2483.3" x2="997" y2="2492.3" stroke="#5e5e5e" stroke-width="2.5"/>
<line x1="1156.5" y1="2483.3" x2="1156.5" y2="2492.3" stroke="#5e5e5e" stroke-width="2.5"/>
<path d="M521.05,2471.32 L521.05,2456.08 L521.37,2439.74 L521.69,2428.85 L524.88,2412.52 L528.07,2396.18 L531.26,2371.68 L534.45,2347.18 L537.64,2325.39 L540.83,2306.34 L544.02,2287.28 L547.21,2268.22 L551.04,2250.25 L559.65,2221.4 L573.37,2188.18 L614.2,2123.93 L646.1,2091.26 L678,2069.48 L709.9,2053.69 L741.8,2040.62 L773.7,2031.37 L805.6,2024.83 L837.5,2018.84 L869.4,2014.49 L901.3,2011.76 L933.2,2008.5 L965.1,2005.23 L997,2002.51 L1028.9,2000.87 L1060.8,1998.15 L1092.7,1995.97 L1108.65,1995.43 L1124.6,1994.88 L1140.55,1993.79 L1156.5,1992.16" fill="none" stroke="#333333" stroke-width="2" stroke-linejoin="round" stroke-linecap="round" />
<circle cx="521.05" cy="2471.32" r="7.3" fill="#111111" stroke="#111111" stroke-width="0.8"/>
<circle cx="521.05" cy="2456.08" r="7.3" fill="#111111" stroke="#111111" stroke-width="0.8"/>
<circle cx="521.37" cy="2439.74" r="7.3" fill="#111111" stroke="#111111" stroke-width="0.8"/>
<circle cx="521.69" cy="2428.85" r="7.3" fill="#111111" stroke="#111111" stroke-width="0.8"/>
<circle cx="524.88" cy="2412.52" r="7.3" fill="#111111" stroke="#111111" stroke-width="0.8"/>
<circle cx="528.07" cy="2396.18" r="7.3" fill="#111111" stroke="#111111" stroke-width="0.8"/>
<circle cx="531.26" cy="2371.68" r="7.3" fill="#111111" stroke="#111111" stroke-width="0.8"/>
<circle cx="534.45" cy="2347.18" r="7.3" fill="#111111" stroke="#111111" stroke-width="0.8"/>
<circle cx="537.64" cy="2325.39" r="7.3" fill="#111111" stroke="#111111" stroke-width="0.8"/>
<circle cx="540.83" cy="2306.34" r="7.3" fill="#111111" stroke="#111111" stroke-width="0.8"/>
<circle cx="544.02" cy="2287.28" r="7.3" fill="#111111" stroke="#111111" stroke-width="0.8"/>
<circle cx="547.21" cy="2268.22" r="7.3" fill="#111111" stroke="#111111" stroke-width="0.8"/>
<circle cx="551.04" cy="2250.25" r="7.3" fill="#111111" stroke="#111111" stroke-width="0.8"/>
<circle cx="559.65" cy="2221.4" r="7.3" fill="#111111" stroke="#111111" stroke-width="0.8"/>
<circle cx="573.37" cy="2188.18" r="7.3" fill="#111111" stroke="#111111" stroke-width="0.8"/>
<circle cx="614.2" cy="2123.93" r="7.3" fill="#111111" stroke="#111111" stroke-width="0.8"/>
<circle cx="646.1" cy="2091.26" r="7.3" fill="#111111" stroke="#111111" stroke-width="0.8"/>
<circle cx="678" cy="2069.48" r="7.3" fill="#111111" stroke="#111111" stroke-width="0.8"/>
<circle cx="709.9" cy="2053.69" r="7.3" fill="#111111" stroke="#111111" stroke-width="0.8"/>
<circle cx="741.8" cy="2040.62" r="7.3" fill="#111111" stroke="#111111" stroke-width="0.8"/>
<circle cx="773.7" cy="2031.37" r="7.3" fill="#111111" stroke="#111111" stroke-width="0.8"/>
<circle cx="805.6" cy="2024.83" r="7.3" fill="#111111" stroke="#111111" stroke-width="0.8"/>
<circle cx="837.5" cy="2018.84" r="7.3" fill="#111111" stroke="#111111" stroke-width="0.8"/>
<circle cx="869.4" cy="2014.49" r="7.3" fill="#111111" stroke="#111111" stroke-width="0.8"/>
<circle cx="901.3" cy="2011.76" r="7.3" fill="#111111" stroke="#111111" stroke-width="0.8"/>
<circle cx="933.2" cy="2008.5" r="7.3" fill="#111111" stroke="#111111" stroke-width="0.8"/>
<circle cx="965.1" cy="2005.23" r="7.3" fill="#111111" stroke="#111111" stroke-width="0.8"/>
<circle cx="997" cy="2002.51" r="7.3" fill="#111111" stroke="#111111" stroke-width="0.8"/>
<circle cx="1028.9" cy="2000.87" r="7.3" fill="#111111" stroke="#111111" stroke-width="0.8"/>
<circle cx="1060.8" cy="1998.15" r="7.3" fill="#111111" stroke="#111111" stroke-width="0.8"/>
<circle cx="1092.7" cy="1995.97" r="7.3" fill="#111111" stroke="#111111" stroke-width="0.8"/>
<circle cx="1108.65" cy="1995.43" r="7.3" fill="#111111" stroke="#111111" stroke-width="0.8"/>
<circle cx="1124.6" cy="1994.88" r="7.3" fill="#111111" stroke="#111111" stroke-width="0.8"/>
<circle cx="1140.55" cy="1993.79" r="7.3" fill="#111111" stroke="#111111" stroke-width="0.8"/>
<circle cx="1156.5" cy="1992.16" r="7.3" fill="#111111" stroke="#111111" stroke-width="0.8"/>
<path d="M521.05,2472.41 L521.05,2456.08 L521.05,2428.85 L519.46,2412.52 L520.51,2395.09 L522.2,2367.87 L523.92,2340.64 L524.56,2330.84 L526.79,2311.78 L529.03,2294.9 L533.17,2267.68 L535.73,2243.72 L539.87,2221.4 L541.79,2204.52 L544.66,2186.55 L547.85,2172.94 L558.69,2132.64 L573.37,2098.88 L614.2,2041.17 L646.1,2013.94 L678,1994.34 L709.9,1986.17 L741.8,1975.28 L773.7,1967.66 L805.6,1960.58 L837.5,1954.05 L869.4,1946.42 L901.3,1941.52 L933.2,1933.9 L965.1,1930.09 L997,1925.19 L1028.9,1923.55 L1060.8,1921.38 L1092.7,1919.2 L1108.65,1918.11 L1124.6,1916.48 L1140.55,1913.75 L1156.5,1912.66" fill="none" stroke="#e8424f" stroke-width="1.8" stroke-linejoin="round" stroke-linecap="round" />
<rect x="513.8" y="2465.16" width="14.5" height="14.5" fill="#ee1c25" stroke="#e01b25" stroke-width="0.8"/>
<rect x="513.8" y="2448.83" width="14.5" height="14.5" fill="#ee1c25" stroke="#e01b25" stroke-width="0.8"/>
<rect x="513.8" y="2421.6" width="14.5" height="14.5" fill="#ee1c25" stroke="#e01b25" stroke-width="0.8"/>
<rect x="512.21" y="2405.27" width="14.5" height="14.5" fill="#ee1c25" stroke="#e01b25" stroke-width="0.8"/>
<rect x="513.26" y="2387.84" width="14.5" height="14.5" fill="#ee1c25" stroke="#e01b25" stroke-width="0.8"/>
<rect x="514.95" y="2360.62" width="14.5" height="14.5" fill="#ee1c25" stroke="#e01b25" stroke-width="0.8"/>
<rect x="516.67" y="2333.39" width="14.5" height="14.5" fill="#ee1c25" stroke="#e01b25" stroke-width="0.8"/>
<rect x="517.31" y="2323.59" width="14.5" height="14.5" fill="#ee1c25" stroke="#e01b25" stroke-width="0.8"/>
<rect x="519.54" y="2304.53" width="14.5" height="14.5" fill="#ee1c25" stroke="#e01b25" stroke-width="0.8"/>
<rect x="521.78" y="2287.65" width="14.5" height="14.5" fill="#ee1c25" stroke="#e01b25" stroke-width="0.8"/>
<rect x="525.92" y="2260.43" width="14.5" height="14.5" fill="#ee1c25" stroke="#e01b25" stroke-width="0.8"/>
<rect x="528.48" y="2236.47" width="14.5" height="14.5" fill="#ee1c25" stroke="#e01b25" stroke-width="0.8"/>
<rect x="532.62" y="2214.15" width="14.5" height="14.5" fill="#ee1c25" stroke="#e01b25" stroke-width="0.8"/>
<rect x="534.54" y="2197.27" width="14.5" height="14.5" fill="#ee1c25" stroke="#e01b25" stroke-width="0.8"/>
<rect x="537.41" y="2179.3" width="14.5" height="14.5" fill="#ee1c25" stroke="#e01b25" stroke-width="0.8"/>
<rect x="540.6" y="2165.69" width="14.5" height="14.5" fill="#ee1c25" stroke="#e01b25" stroke-width="0.8"/>
<rect x="551.44" y="2125.39" width="14.5" height="14.5" fill="#ee1c25" stroke="#e01b25" stroke-width="0.8"/>
<rect x="566.12" y="2091.63" width="14.5" height="14.5" fill="#ee1c25" stroke="#e01b25" stroke-width="0.8"/>
<rect x="606.95" y="2033.92" width="14.5" height="14.5" fill="#ee1c25" stroke="#e01b25" stroke-width="0.8"/>
<rect x="638.85" y="2006.69" width="14.5" height="14.5" fill="#ee1c25" stroke="#e01b25" stroke-width="0.8"/>
<rect x="670.75" y="1987.09" width="14.5" height="14.5" fill="#ee1c25" stroke="#e01b25" stroke-width="0.8"/>
<rect x="702.65" y="1978.92" width="14.5" height="14.5" fill="#ee1c25" stroke="#e01b25" stroke-width="0.8"/>
<rect x="734.55" y="1968.03" width="14.5" height="14.5" fill="#ee1c25" stroke="#e01b25" stroke-width="0.8"/>
<rect x="766.45" y="1960.41" width="14.5" height="14.5" fill="#ee1c25" stroke="#e01b25" stroke-width="0.8"/>
<rect x="798.35" y="1953.33" width="14.5" height="14.5" fill="#ee1c25" stroke="#e01b25" stroke-width="0.8"/>
<rect x="830.25" y="1946.8" width="14.5" height="14.5" fill="#ee1c25" stroke="#e01b25" stroke-width="0.8"/>
<rect x="862.15" y="1939.17" width="14.5" height="14.5" fill="#ee1c25" stroke="#e01b25" stroke-width="0.8"/>
<rect x="894.05" y="1934.27" width="14.5" height="14.5" fill="#ee1c25" stroke="#e01b25" stroke-width="0.8"/>
<rect x="925.95" y="1926.65" width="14.5" height="14.5" fill="#ee1c25" stroke="#e01b25" stroke-width="0.8"/>
<rect x="957.85" y="1922.84" width="14.5" height="14.5" fill="#ee1c25" stroke="#e01b25" stroke-width="0.8"/>
<rect x="989.75" y="1917.94" width="14.5" height="14.5" fill="#ee1c25" stroke="#e01b25" stroke-width="0.8"/>
<rect x="1021.65" y="1916.3" width="14.5" height="14.5" fill="#ee1c25" stroke="#e01b25" stroke-width="0.8"/>
<rect x="1053.55" y="1914.13" width="14.5" height="14.5" fill="#ee1c25" stroke="#e01b25" stroke-width="0.8"/>
<rect x="1085.45" y="1911.95" width="14.5" height="14.5" fill="#ee1c25" stroke="#e01b25" stroke-width="0.8"/>
<rect x="1101.4" y="1910.86" width="14.5" height="14.5" fill="#ee1c25" stroke="#e01b25" stroke-width="0.8"/>
<rect x="1117.35" y="1909.23" width="14.5" height="14.5" fill="#ee1c25" stroke="#e01b25" stroke-width="0.8"/>
<rect x="1133.3" y="1906.5" width="14.5" height="14.5" fill="#ee1c25" stroke="#e01b25" stroke-width="0.8"/>
<rect x="1149.25" y="1905.41" width="14.5" height="14.5" fill="#ee1c25" stroke="#e01b25" stroke-width="0.8"/>
<path d="M521.05,2471.32 L521.05,2456.08 L521.37,2439.74 L521.69,2428.85 L524.88,2416.87 L529.03,2403.8 L530.62,2386.92 L533.17,2359.7 L535.73,2340.64 L538.28,2322.13 L540.83,2305.25 L544.34,2287.82 L547.85,2272.58 L551.04,2255.7 L558.06,2233.37 L573.37,2188.18 L614.2,2128.29 L646.1,2093.98 L678,2072.2 L709.9,2053.69 L741.8,2036.27 L773.7,2021.56 L805.6,2009.04 L837.5,1999.24 L869.4,1991.62 L901.3,1983.45 L933.2,1976.92 L965.1,1970.93 L997,1966.03 L1028.9,1962.21 L1060.8,1958.4 L1092.7,1952.96 L1108.65,1951.32 L1124.6,1950.23 L1140.55,1949.15 L1156.5,1948.6" fill="none" stroke="#3f4f9c" stroke-width="1.8" stroke-linejoin="round" stroke-linecap="round" />
<path d="M521.05,2462.68 L529.05,2477.08 L513.05,2477.08Z" fill="#3c54a5" stroke="none" stroke-width="0"/>
<path d="M521.05,2447.44 L529.05,2461.84 L513.05,2461.84Z" fill="#3c54a5" stroke="none" stroke-width="0"/>
<path d="M521.37,2431.1 L529.37,2445.5 L513.37,2445.5Z" fill="#3c54a5" stroke="none" stroke-width="0"/>
<path d="M521.69,2420.21 L529.69,2434.61 L513.69,2434.61Z" fill="#3c54a5" stroke="none" stroke-width="0"/>
<path d="M524.88,2408.23 L532.88,2422.63 L516.88,2422.63Z" fill="#3c54a5" stroke="none" stroke-width="0"/>
<path d="M529.03,2395.16 L537.03,2409.56 L521.03,2409.56Z" fill="#3c54a5" stroke="none" stroke-width="0"/>
<path d="M530.62,2378.28 L538.62,2392.68 L522.62,2392.68Z" fill="#3c54a5" stroke="none" stroke-width="0"/>
<path d="M533.17,2351.06 L541.17,2365.46 L525.17,2365.46Z" fill="#3c54a5" stroke="none" stroke-width="0"/>
<path d="M535.73,2332 L543.73,2346.4 L527.73,2346.4Z" fill="#3c54a5" stroke="none" stroke-width="0"/>
<path d="M538.28,2313.49 L546.28,2327.89 L530.28,2327.89Z" fill="#3c54a5" stroke="none" stroke-width="0"/>
<path d="M540.83,2296.61 L548.83,2311.01 L532.83,2311.01Z" fill="#3c54a5" stroke="none" stroke-width="0"/>
<path d="M544.34,2279.18 L552.34,2293.58 L536.34,2293.58Z" fill="#3c54a5" stroke="none" stroke-width="0"/>
<path d="M547.85,2263.94 L555.85,2278.34 L539.85,2278.34Z" fill="#3c54a5" stroke="none" stroke-width="0"/>
<path d="M551.04,2247.06 L559.04,2261.46 L543.04,2261.46Z" fill="#3c54a5" stroke="none" stroke-width="0"/>
<path d="M558.06,2224.73 L566.06,2239.13 L550.06,2239.13Z" fill="#3c54a5" stroke="none" stroke-width="0"/>
<path d="M573.37,2179.54 L581.37,2193.94 L565.37,2193.94Z" fill="#3c54a5" stroke="none" stroke-width="0"/>
<path d="M614.2,2119.65 L622.2,2134.05 L606.2,2134.05Z" fill="#3c54a5" stroke="none" stroke-width="0"/>
<path d="M646.1,2085.34 L654.1,2099.74 L638.1,2099.74Z" fill="#3c54a5" stroke="none" stroke-width="0"/>
<path d="M678,2063.56 L686,2077.96 L670,2077.96Z" fill="#3c54a5" stroke="none" stroke-width="0"/>
<path d="M709.9,2045.05 L717.9,2059.45 L701.9,2059.45Z" fill="#3c54a5" stroke="none" stroke-width="0"/>
<path d="M741.8,2027.63 L749.8,2042.03 L733.8,2042.03Z" fill="#3c54a5" stroke="none" stroke-width="0"/>
<path d="M773.7,2012.92 L781.7,2027.32 L765.7,2027.32Z" fill="#3c54a5" stroke="none" stroke-width="0"/>
<path d="M805.6,2000.4 L813.6,2014.8 L797.6,2014.8Z" fill="#3c54a5" stroke="none" stroke-width="0"/>
<path d="M837.5,1990.6 L845.5,2005 L829.5,2005Z" fill="#3c54a5" stroke="none" stroke-width="0"/>
<path d="M869.4,1982.98 L877.4,1997.38 L861.4,1997.38Z" fill="#3c54a5" stroke="none" stroke-width="0"/>
<path d="M901.3,1974.81 L909.3,1989.21 L893.3,1989.21Z" fill="#3c54a5" stroke="none" stroke-width="0"/>
<path d="M933.2,1968.28 L941.2,1982.68 L925.2,1982.68Z" fill="#3c54a5" stroke="none" stroke-width="0"/>
<path d="M965.1,1962.29 L973.1,1976.69 L957.1,1976.69Z" fill="#3c54a5" stroke="none" stroke-width="0"/>
<path d="M997,1957.38 L1005,1971.79 L989,1971.79Z" fill="#3c54a5" stroke="none" stroke-width="0"/>
<path d="M1028.9,1953.57 L1036.9,1967.97 L1020.9,1967.97Z" fill="#3c54a5" stroke="none" stroke-width="0"/>
<path d="M1060.8,1949.76 L1068.8,1964.16 L1052.8,1964.16Z" fill="#3c54a5" stroke="none" stroke-width="0"/>
<path d="M1092.7,1944.32 L1100.7,1958.72 L1084.7,1958.72Z" fill="#3c54a5" stroke="none" stroke-width="0"/>
<path d="M1108.65,1942.68 L1116.65,1957.08 L1100.65,1957.08Z" fill="#3c54a5" stroke="none" stroke-width="0"/>
<path d="M1124.6,1941.59 L1132.6,1955.99 L1116.6,1955.99Z" fill="#3c54a5" stroke="none" stroke-width="0"/>
<path d="M1140.55,1940.51 L1148.55,1954.91 L1132.55,1954.91Z" fill="#3c54a5" stroke="none" stroke-width="0"/>
<path d="M1156.5,1939.96 L1164.5,1954.36 L1148.5,1954.36Z" fill="#3c54a5" stroke="none" stroke-width="0"/>
<path d="M521.05,2468.05 L521.06,2463.7 L521.08,2459.34 L521.12,2454.99 L521.17,2450.63 L521.23,2446.27 L521.31,2441.92 L521.4,2437.56 L521.51,2433.21 L521.63,2428.85 L521.76,2424.49 L521.91,2420.14 L522.07,2415.78 L522.25,2411.43 L522.44,2407.07 L522.65,2402.71 L523.6,2398.36 L524.56,2390.74 L525.52,2379.85 L526.79,2366.23 L528.07,2350.99 L530.62,2318.86 L534.13,2294.9 L537.64,2272.58 L539.87,2254.07 L542.74,2233.37 L547.21,2216.5 L551.04,2197.44 L558.69,2163.68 L573.37,2122.84 L614.2,2058.59 L646.1,2027.01 L678,1999.24 L709.9,1980.18 L741.8,1959.49 L773.7,1942.07 L805.6,1927.37 L837.5,1916.48 L869.4,1905.04 L901.3,1897.42 L933.2,1889.25 L965.1,1881.63 L997,1875.09 L1028.9,1870.19 L1060.8,1867.47 L1092.7,1860.94 L1108.65,1859.3 L1124.6,1857.67 L1140.55,1856.04 L1156.5,1855.49" fill="none" stroke="#357b58" stroke-width="1.8" stroke-linejoin="round" stroke-linecap="round" />
<path d="M521.05,2476.69 L529.05,2462.29 L513.05,2462.29Z" fill="#0f8a43" stroke="none" stroke-width="0"/>
<path d="M521.06,2472.34 L529.06,2457.94 L513.06,2457.94Z" fill="#0f8a43" stroke="none" stroke-width="0"/>
<path d="M521.08,2467.98 L529.08,2453.58 L513.08,2453.58Z" fill="#0f8a43" stroke="none" stroke-width="0"/>
<path d="M521.12,2463.63 L529.12,2449.23 L513.12,2449.23Z" fill="#0f8a43" stroke="none" stroke-width="0"/>
<path d="M521.17,2459.27 L529.17,2444.87 L513.17,2444.87Z" fill="#0f8a43" stroke="none" stroke-width="0"/>
<path d="M521.23,2454.91 L529.23,2440.51 L513.23,2440.51Z" fill="#0f8a43" stroke="none" stroke-width="0"/>
<path d="M521.31,2450.56 L529.31,2436.16 L513.31,2436.16Z" fill="#0f8a43" stroke="none" stroke-width="0"/>
<path d="M521.4,2446.2 L529.4,2431.8 L513.4,2431.8Z" fill="#0f8a43" stroke="none" stroke-width="0"/>
<path d="M521.51,2441.85 L529.51,2427.45 L513.51,2427.45Z" fill="#0f8a43" stroke="none" stroke-width="0"/>
<path d="M521.63,2437.49 L529.63,2423.09 L513.63,2423.09Z" fill="#0f8a43" stroke="none" stroke-width="0"/>
<path d="M521.76,2433.13 L529.76,2418.73 L513.76,2418.73Z" fill="#0f8a43" stroke="none" stroke-width="0"/>
<path d="M521.91,2428.78 L529.91,2414.38 L513.91,2414.38Z" fill="#0f8a43" stroke="none" stroke-width="0"/>
<path d="M522.07,2424.42 L530.07,2410.02 L514.07,2410.02Z" fill="#0f8a43" stroke="none" stroke-width="0"/>
<path d="M522.25,2420.07 L530.25,2405.67 L514.25,2405.67Z" fill="#0f8a43" stroke="none" stroke-width="0"/>
<path d="M522.44,2415.71 L530.44,2401.31 L514.44,2401.31Z" fill="#0f8a43" stroke="none" stroke-width="0"/>
<path d="M522.65,2411.35 L530.65,2396.95 L514.65,2396.95Z" fill="#0f8a43" stroke="none" stroke-width="0"/>
<path d="M523.6,2407 L531.6,2392.6 L515.6,2392.6Z" fill="#0f8a43" stroke="none" stroke-width="0"/>
<path d="M524.56,2399.38 L532.56,2384.97 L516.56,2384.97Z" fill="#0f8a43" stroke="none" stroke-width="0"/>
<path d="M525.52,2388.49 L533.52,2374.09 L517.52,2374.09Z" fill="#0f8a43" stroke="none" stroke-width="0"/>
<path d="M526.79,2374.87 L534.79,2360.47 L518.79,2360.47Z" fill="#0f8a43" stroke="none" stroke-width="0"/>
<path d="M528.07,2359.63 L536.07,2345.23 L520.07,2345.23Z" fill="#0f8a43" stroke="none" stroke-width="0"/>
<path d="M530.62,2327.5 L538.62,2313.1 L522.62,2313.1Z" fill="#0f8a43" stroke="none" stroke-width="0"/>
<path d="M534.13,2303.54 L542.13,2289.14 L526.13,2289.14Z" fill="#0f8a43" stroke="none" stroke-width="0"/>
<path d="M537.64,2281.22 L545.64,2266.82 L529.64,2266.82Z" fill="#0f8a43" stroke="none" stroke-width="0"/>
<path d="M539.87,2262.71 L547.87,2248.31 L531.87,2248.31Z" fill="#0f8a43" stroke="none" stroke-width="0"/>
<path d="M542.74,2242.01 L550.74,2227.61 L534.74,2227.61Z" fill="#0f8a43" stroke="none" stroke-width="0"/>
<path d="M547.21,2225.14 L555.21,2210.74 L539.21,2210.74Z" fill="#0f8a43" stroke="none" stroke-width="0"/>
<path d="M551.04,2206.08 L559.04,2191.68 L543.04,2191.68Z" fill="#0f8a43" stroke="none" stroke-width="0"/>
<path d="M558.69,2172.32 L566.69,2157.92 L550.69,2157.92Z" fill="#0f8a43" stroke="none" stroke-width="0"/>
<path d="M573.37,2131.48 L581.37,2117.08 L565.37,2117.08Z" fill="#0f8a43" stroke="none" stroke-width="0"/>
<path d="M614.2,2067.23 L622.2,2052.83 L606.2,2052.83Z" fill="#0f8a43" stroke="none" stroke-width="0"/>
<path d="M646.1,2035.65 L654.1,2021.25 L638.1,2021.25Z" fill="#0f8a43" stroke="none" stroke-width="0"/>
<path d="M678,2007.88 L686,1993.48 L670,1993.48Z" fill="#0f8a43" stroke="none" stroke-width="0"/>
<path d="M709.9,1988.82 L717.9,1974.42 L701.9,1974.42Z" fill="#0f8a43" stroke="none" stroke-width="0"/>
<path d="M741.8,1968.13 L749.8,1953.73 L733.8,1953.73Z" fill="#0f8a43" stroke="none" stroke-width="0"/>
<path d="M773.7,1950.71 L781.7,1936.31 L765.7,1936.31Z" fill="#0f8a43" stroke="none" stroke-width="0"/>
<path d="M805.6,1936.01 L813.6,1921.61 L797.6,1921.61Z" fill="#0f8a43" stroke="none" stroke-width="0"/>
<path d="M837.5,1925.12 L845.5,1910.72 L829.5,1910.72Z" fill="#0f8a43" stroke="none" stroke-width="0"/>
<path d="M869.4,1913.68 L877.4,1899.28 L861.4,1899.28Z" fill="#0f8a43" stroke="none" stroke-width="0"/>
<path d="M901.3,1906.06 L909.3,1891.66 L893.3,1891.66Z" fill="#0f8a43" stroke="none" stroke-width="0"/>
<path d="M933.2,1897.89 L941.2,1883.49 L925.2,1883.49Z" fill="#0f8a43" stroke="none" stroke-width="0"/>
<path d="M965.1,1890.27 L973.1,1875.87 L957.1,1875.87Z" fill="#0f8a43" stroke="none" stroke-width="0"/>
<path d="M997,1883.73 L1005,1869.33 L989,1869.33Z" fill="#0f8a43" stroke="none" stroke-width="0"/>
<path d="M1028.9,1878.83 L1036.9,1864.43 L1020.9,1864.43Z" fill="#0f8a43" stroke="none" stroke-width="0"/>
<path d="M1060.8,1876.11 L1068.8,1861.71 L1052.8,1861.71Z" fill="#0f8a43" stroke="none" stroke-width="0"/>
<path d="M1092.7,1869.58 L1100.7,1855.18 L1084.7,1855.18Z" fill="#0f8a43" stroke="none" stroke-width="0"/>
<path d="M1108.65,1867.94 L1116.65,1853.54 L1100.65,1853.54Z" fill="#0f8a43" stroke="none" stroke-width="0"/>
<path d="M1124.6,1866.31 L1132.6,1851.91 L1116.6,1851.91Z" fill="#0f8a43" stroke="none" stroke-width="0"/>
<path d="M1140.55,1864.68 L1148.55,1850.28 L1132.55,1850.28Z" fill="#0f8a43" stroke="none" stroke-width="0"/>
<path d="M1156.5,1864.13 L1164.5,1849.73 L1148.5,1849.73Z" fill="#0f8a43" stroke="none" stroke-width="0"/>
<text x="491.5" y="2496.3" font-size="37" text-anchor="end" fill="#232323" >0</text>
<text x="491.5" y="2387.4" font-size="37" text-anchor="end" fill="#232323" >2</text>
<text x="491.5" y="2278.5" font-size="37" text-anchor="end" fill="#232323" >4</text>
<text x="491.5" y="2169.6" font-size="37" text-anchor="end" fill="#232323" >6</text>
<text x="491.5" y="2060.7" font-size="37" text-anchor="end" fill="#232323" >8</text>
<text x="491.5" y="1951.8" font-size="37" text-anchor="end" fill="#232323" >10</text>
<text x="491.5" y="1842.9" font-size="37" text-anchor="end" fill="#232323" >12</text>
<text x="518.5" y="2543" font-size="37" text-anchor="middle" fill="#232323" >0</text>
<text x="678" y="2543" font-size="37" text-anchor="middle" fill="#232323" >5</text>
<text x="837.5" y="2543" font-size="37" text-anchor="middle" fill="#232323" >10</text>
<text x="997" y="2543" font-size="37" text-anchor="middle" fill="#232323" >15</text>
<text x="1156.5" y="2543" font-size="37" text-anchor="middle" fill="#232323" >20</text>
<text x="702.5" y="2592" font-size="41.7" text-anchor="start" fill="#232323" >Pressure (Bar)</text>
<text transform="translate(408,2352.5) rotate(-90)" x="0" y="0" font-size="42" fill="#232323" >CO<tspan font-size="25" dy="13">2</tspan><tspan dy="-13"> uptake (mmol/g)</tspan></text>
<text x="624.6" y="1885" font-size="46.8" text-anchor="start" fill="#232323" textLength="56" lengthAdjust="spacingAndGlyphs">(e)</text>
<line x1="903" y1="2279.4" x2="978" y2="2279.4" stroke="#555555" stroke-width="2.6"/>
<circle cx="940.1" cy="2279.4" r="7.6" fill="#111" stroke="#111" stroke-width="0.8"/>
<line x1="903" y1="2320.4" x2="978" y2="2320.4" stroke="#e0505a" stroke-width="1.8"/>
<rect x="932.85" y="2313.15" width="14.5" height="14.5" fill="#ee1c25" stroke="#e01b25" stroke-width="0.8"/>
<line x1="903" y1="2361" x2="978" y2="2361" stroke="#4a5aa0" stroke-width="2"/>
<path d="M940.1,2352.36 L948.1,2366.76 L932.1,2366.76Z" fill="#3c54a5" stroke="none" stroke-width="0"/>
<line x1="903" y1="2403.7" x2="978" y2="2403.7" stroke="#4a8a68" stroke-width="2.4"/>
<path d="M940.1,2412.34 L948.1,2397.94 L932.1,2397.94Z" fill="#0f8a43" stroke="none" stroke-width="0"/>
<text x="994.5" y="2289.9" font-size="33.7" text-anchor="start" fill="#232323" >SD2600</text>
<text x="994.5" y="2332.2" font-size="33.7" text-anchor="start" fill="#232323" >SD2600P</text>
<text x="994.5" y="2373.3" font-size="33.7" text-anchor="start" fill="#232323" >SD2650</text>
<text x="994.5" y="2413.3" font-size="33.7" text-anchor="start" fill="#232323" >SD2650P</text>
</svg>
</body></html>
